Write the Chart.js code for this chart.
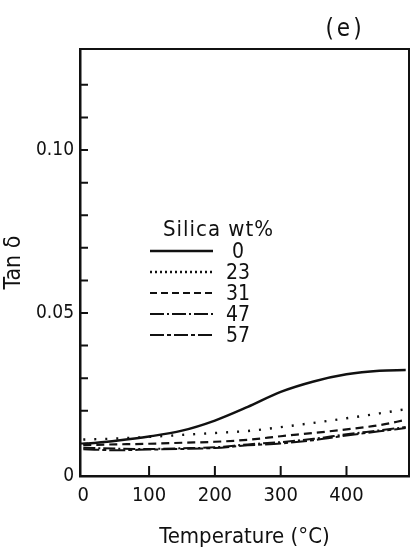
<!DOCTYPE html>
<html>
<head>
<meta charset="utf-8">
<script src="https://cdn.jsdelivr.net/npm/chart.js@4.4.1/dist/chart.umd.min.js"></script>
<style>
  html, body { margin: 0; padding: 0; background: #fff; }
  #wrap { width: 414px; height: 553px; position: relative; }
</style>
</head>
<body>
<div id="wrap"><canvas id="tanChart"></canvas></div>
<script>
const temperature = [0, 50, 100, 150, 200, 250, 300, 350, 400, 450, 490];
const silica0  = [0.0098, 0.0108, 0.0121, 0.0139, 0.0170, 0.0212, 0.0258, 0.0290, 0.0312, 0.0323, 0.0325];
const silica23 = [0.0112, 0.0115, 0.0120, 0.0126, 0.0132, 0.0138, 0.0150, 0.0163, 0.0177, 0.0192, 0.0205];
const silica31 = [0.0095, 0.0097, 0.0099, 0.0102, 0.0105, 0.0111, 0.0122, 0.0132, 0.0143, 0.0156, 0.0172];
const silica47 = [0.0087, 0.0084, 0.0083, 0.0085, 0.0088, 0.0097, 0.0104, 0.0114, 0.0128, 0.0140, 0.0150];
const silica57 = [0.0082, 0.0079, 0.0081, 0.0083, 0.0086, 0.0094, 0.0100, 0.0110, 0.0124, 0.0137, 0.0147];
const seriesNames = ['0', '23', '31', '47', '57'];
const xTicks = [0, 100, 200, 300, 400];
const yTickLabels = { 0: '0', 5: '0.05', 10: '0.10' };

const FONT = "'DejaVu Sans Condensed', 'Liberation Sans Narrow', sans-serif";
const INK = '#111';

function pts(ys) {
  return temperature.map((t, i) => ({ x: t, y: ys[i] }));
}

function makeSet(label, ys, dash, legendDash, width) {
  return {
    label: label,
    data: pts(ys),
    borderColor: INK,
    borderWidth: width,
    borderDash: dash,
    legendDash: legendDash,
    pointRadius: 0,
    fill: false,
    cubicInterpolationMode: 'monotone'
  };
}

// inward ticks, frame, "(e)" and the inset legend
const paperPlugin = {
  id: 'paper',
  afterDraw(chart) {
    const ctx = chart.ctx;
    const a = chart.chartArea;
    const xs = chart.scales.x, ys = chart.scales.y;
    ctx.save();
    ctx.strokeStyle = INK;
    ctx.lineWidth = 2;
    ctx.beginPath();
    ctx.moveTo(a.left, a.top); ctx.lineTo(a.right, a.top); ctx.lineTo(a.right, a.bottom);
    ctx.stroke();

    ctx.lineWidth = 2;
    ctx.beginPath();
    xTicks.forEach(v => {
      if (v === 0) return;
      const px = xs.getPixelForValue(v);
      ctx.moveTo(px, a.bottom); ctx.lineTo(px, a.bottom - 10);
    });
    for (let i = 1; i <= 12; i++) {
      const py = ys.getPixelForValue(i / 100);
      ctx.moveTo(a.left, py); ctx.lineTo(a.left + 8, py);
    }
    ctx.stroke();

    ctx.fillStyle = INK;
    ctx.font = '24px ' + FONT;
    ctx.textAlign = 'center';
    ctx.textBaseline = 'middle';
    ctx.letterSpacing = '3px';
    ctx.fillText('(e)', 345, 30);
    ctx.letterSpacing = '0px';

    // legend
    ctx.font = '22px ' + FONT;
    ctx.textAlign = 'left';
    ctx.letterSpacing = '1px';
    ctx.fillText('Silica wt%', 163, 230);
    ctx.letterSpacing = '0px';
    ctx.font = '21px ' + FONT;
    ctx.textAlign = 'center';
    chart.data.datasets.forEach((ds, i) => {
      const y = 251 + i * 21;
      ctx.lineWidth = ds.borderWidth;
      ctx.setLineDash(ds.legendDash);
      ctx.beginPath();
      ctx.moveTo(150, y); ctx.lineTo(213, y);
      ctx.stroke();
      ctx.setLineDash([]);
      ctx.fillText(ds.label, 238, y + 2);
    });
    ctx.restore();
  }
};

const ctx = document.getElementById('tanChart').getContext('2d');
new Chart(ctx, {
  type: 'line',
  data: {
    datasets: [
      makeSet(seriesNames[0], silica0, [], [], 2.4),
      makeSet(seriesNames[1], silica23, [2, 9], [2, 3], 2.4),
      makeSet(seriesNames[2], silica31, [8, 5], [7, 4], 2.2),
      makeSet(seriesNames[3], silica47, [12, 3, 2, 3], [14, 3, 2, 3], 2),
      makeSet(seriesNames[4], silica57, [16, 3, 4, 3], [14, 3, 4, 3], 2)
    ]
  },
  options: {
    responsive: true,
    maintainAspectRatio: false,
    animation: false,
    layout: { padding: { top: 49, right: 5, left: 0, bottom: 0 } },
    scales: {
      x: {
        type: 'linear',
        min: -5,
        max: 495,
        afterBuildTicks: s => { s.ticks = xTicks.map(v => ({ value: v })); },
        afterFit: s => { s.height = 77; },
        grid: { display: false, drawTicks: false },
        border: { display: true, color: INK, width: 2.5 },
        ticks: { color: INK, padding: 8, maxRotation: 0, font: { family: FONT, size: 20 } },
        title: {
          display: true,
          text: 'Temperature (°C)',
          color: INK,
          font: { family: FONT, size: 22 },
          padding: { top: 0, bottom: 3 }
        }
      },
      y: {
        min: 0,
        max: 0.131,
        afterBuildTicks: s => {
          s.ticks = [];
          for (let i = 0; i <= 13; i++) s.ticks.push({ value: i / 100 });
        },
        afterFit: s => { s.width = 80; },
        grid: { display: false, drawTicks: false },
        border: { display: true, color: INK, width: 2.5 },
        ticks: {
          color: INK,
          padding: 6,
          autoSkip: false,
          font: { family: FONT, size: 19 },
          callback: v => yTickLabels[Math.round(v * 100)] || ''
        },
        title: {
          display: true,
          text: 'Tan δ',
          color: INK,
          font: { family: FONT, size: 23 },
          padding: { top: 0, bottom: 0 }
        }
      }
    },
    plugins: {
      legend: { display: false },
      tooltip: { enabled: false }
    }
  },
  plugins: [paperPlugin]
});
</script>
</body>
</html>
